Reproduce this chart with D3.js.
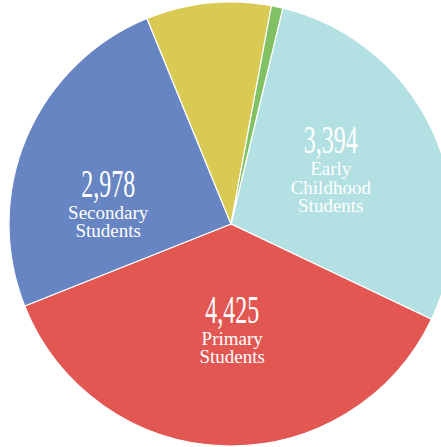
<!DOCTYPE html>
<html>
<head>
<meta charset="utf-8">
<script src="https://cdn.jsdelivr.net/npm/d3@7"></script>
<style>
  html, body { margin: 0; padding: 0; background: #fff; }
  svg { display: block; }
  .label text { font-family: "Liberation Serif", "Times New Roman", Times, serif; fill: #fff; }
</style>
</head>
<body>
<div id="chart"></div>
<script>
'use strict';

const width = 441;
const height = 447;

// Slices, in clockwise order starting at the top-right
const categories = ['Early Childhood', 'Primary', 'Secondary', 'Other', 'Other small'];
const values = [3394, 4425, 2978, 1090, 100];
const colors = ['#b3e0e2', '#e35753', '#6785c2', '#d9ca53', '#82c064'];
// Label lines (empty = no label)
const valueLabels = ['3,394', '4,425', '2,978', '', ''];
const nameLines = [['Early', 'Childhood', 'Students'], ['Primary', 'Students'], ['Secondary', 'Students'], [], []];

const cx = 231;
const cy = 224;
const radius = 222;
const startDeg = 13.5;

// small hand nudges for the label blocks, from the slice centroid
const labelNudge = [[-4, -21], [5, -16], [-17, 18], [0, 0], [0, 0]];

const data = categories.map((c, i) => ({ name: c, value: values[i], i }));

const svg = d3.select('#chart')
	.append('svg')
	.attr('width', width)
	.attr('height', height);

const g = svg.append('g')
	.attr('transform', `translate(${cx},${cy})`);

const start = startDeg * Math.PI / 180;
const pie = d3.pie()
	.sort(null)
	.value(d => d.value)
	.startAngle(start)
	.endAngle(start + 2 * Math.PI);

const arc = d3.arc().innerRadius(0).outerRadius(radius);
const labelArc = d3.arc().innerRadius(115).outerRadius(115);

const arcs = pie(data);

g.selectAll('path')
	.data(arcs)
	.enter().append('path')
	.attr('d', arc)
	.attr('fill', d => colors[d.data.i])
	.attr('stroke', '#fff')
	.attr('stroke-width', 1.2);

const labels = g.selectAll('g.label')
	.data(arcs.filter(d => valueLabels[d.data.i]))
	.enter().append('g')
	.attr('class', 'label')
	.attr('transform', d => {
		const c = labelArc.centroid(d);
		const n = labelNudge[d.data.i];
		return `translate(${c[0] + n[0]},${c[1] + n[1]})`;
	});

labels.append('text')
	.attr('text-anchor', 'middle')
	.attr('transform', 'scale(0.6,1)')
	.attr('font-size', 40)
	.text(d => valueLabels[d.data.i]);

labels.each(function (d) {
	const sel = d3.select(this);
	nameLines[d.data.i].forEach((line, k) => {
		sel.append('text')
			.attr('text-anchor', 'middle')
			.attr('y', 22 + k * 18.5)
			.attr('font-size', 19)
			.text(line);
	});
});
</script>
</body>
</html>
